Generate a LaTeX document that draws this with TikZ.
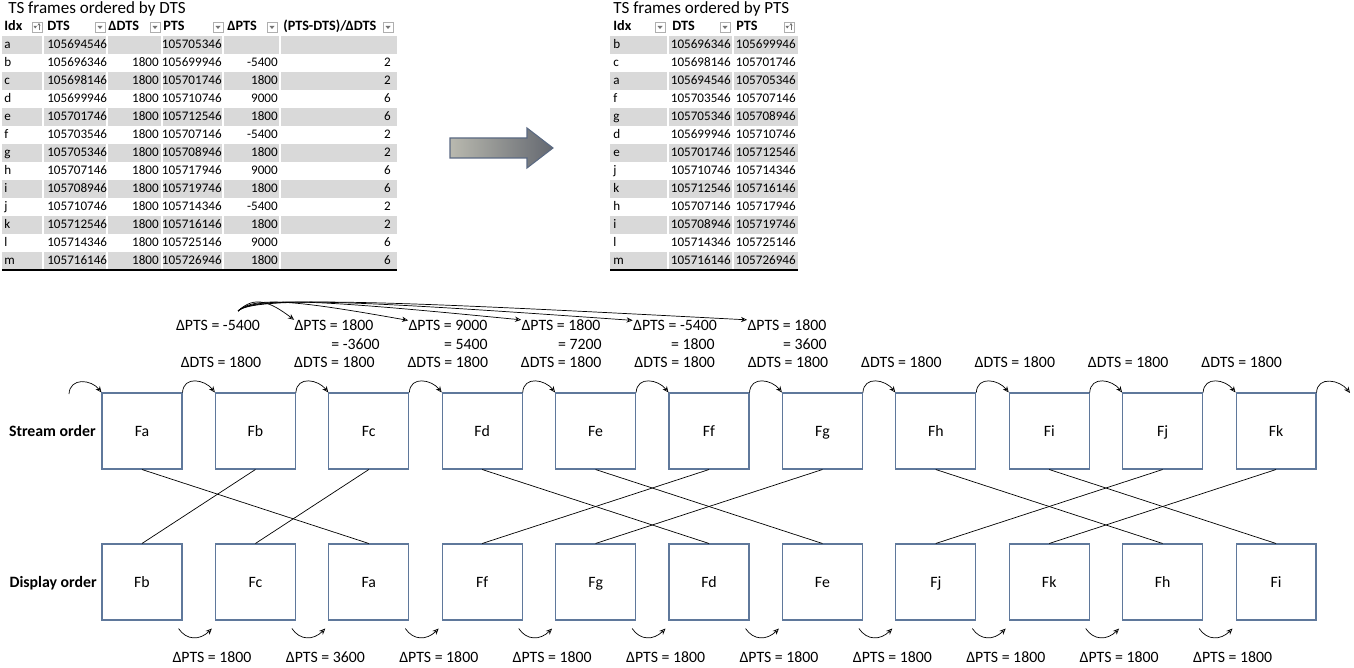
\documentclass[tikz,border=0pt]{standalone}
\usepackage{fontspec}
\setmainfont{Carlito}
\usetikzlibrary{arrows.meta,calc,positioning}

\definecolor{band}{RGB}{217,217,217}
\definecolor{boxline}{RGB}{95,120,155}
\definecolor{btnline}{RGB}{175,175,175}
\definecolor{arrowline}{RGB}{90,105,130}
\definecolor{arrowL}{RGB}{185,185,175}
\definecolor{arrowR}{RGB}{100,104,112}

\tikzset{
  lbl/.style={inner sep=0pt, anchor=base, font=\fontsize{9pt}{10.5pt}\selectfont},
  cell/.style={inner sep=0pt, font=\fontsize{7.45pt}{9pt}\selectfont},
  head/.style={inner sep=0pt, font=\fontsize{8.1pt}{9pt}\selectfont\bfseries},
  frame/.style={draw=boxline, line width=0.6pt, minimum width=1.6cm, minimum height=1.52cm,
    text depth=0pt, font=\fontsize{9pt}{10.5pt}\selectfont},
  hop/.style={-{Stealth[open,length=3.5pt,width=3pt]}, line width=0.4pt},
  btn/.style={draw=btnline, fill=white, line width=0.3pt, minimum size=0.2cm, inner sep=0pt}
}

\begin{document}
\begin{tikzpicture}[x=0.02cm, y=-0.02cm]
\useasboundingbox (0,0) rectangle (1354,668);

% table ordered by DTS
\node[lbl, anchor=base west, font=\fontsize{9.7pt}{11pt}\selectfont] (tdts) at (8,14) {TS frames ordered by DTS};
\foreach \n in {1,3,...,13}
  \fill[band] (2,{18+18*\n}) rectangle (397,{36+18*\n});
\foreach \x in {43,107,162,223,280}
  \draw[white, line width=0.8pt] (\x,36) -- (\x,270);
\draw[line width=0.8pt] (2,270) -- (397,270);
\node[head, anchor=base west] at (4,31) {Idx};
\node[head, anchor=base west] at (47,31) {DTS};
\node[head, anchor=base west] at (108,31) {ΔDTS};
\node[head, anchor=base west] at (163,31) {PTS};
\node[head, anchor=base west] at (227,31) {ΔPTS};
\node[head, anchor=base west] at (283,31) {(PTS-DTS)/ΔDTS};
\foreach \bx in {100,155,218,272,388,660,725} {
  \node[btn] at (\bx,27) {};
  \fill[black!55] (\bx-2.5,26) -- (\bx+2.5,26) -- (\bx,29) -- cycle;
}
\foreach \bx in {37,789} {
  \node[btn] at (\bx,27) {};
  \fill[black!55] (\bx-3.5,26) -- (\bx,26) -- (\bx-1.75,28.5) -- cycle;
  \draw[black!55, line width=0.3pt, -{Stealth[length=1.5pt,width=1.8pt]}] (\bx+2,30.5) -- (\bx+2,23);
}
\node[cell, anchor=base west] at (4,49) {a};
\node[cell, anchor=base west] at (47,49) {105694546};
\node[cell, anchor=base east] at (222,49) {105705346};
\foreach \idx/\vdts/\vpts/\vdp/\vq [count=\n from 2] in {
    b/105696346/105699946/-5400/2, c/105698146/105701746/1800/2,
    d/105699946/105710746/9000/6, e/105701746/105712546/1800/6,
    f/105703546/105707146/-5400/2, g/105705346/105708946/1800/2,
    h/105707146/105717946/9000/6, i/105708946/105719746/1800/6,
    j/105710746/105714346/-5400/2, k/105712546/105716146/1800/2,
    l/105714346/105725146/9000/6, m/105716146/105726946/1800/6} {
  \node[cell, anchor=base west] at (4,{31+18*\n}) {\idx};
  \node[cell, anchor=base west] at (47,{31+18*\n}) {\vdts};
  \node[cell, anchor=base east] at (159,{31+18*\n}) {1800};
  \node[cell, anchor=base east] at (222,{31+18*\n}) {\vpts};
  \node[cell, anchor=base east] at (278,{31+18*\n}) {\vdp};
  \node[cell, anchor=base east] at (391,{31+18*\n}) {\vq};
}

% table ordered by PTS
\node[lbl, anchor=base west, font=\fontsize{9.7pt}{11pt}\selectfont] (tpts) at (613,14) {TS frames ordered by PTS};
\foreach \n in {1,3,...,13}
  \fill[band] (610,{18+18*\n}) rectangle (798,{36+18*\n});
\foreach \x in {668,733}
  \draw[white, line width=0.8pt] (\x,36) -- (\x,270);
\draw[line width=0.8pt] (610,270) -- (798,270);
\node[head, anchor=base west] at (613,31) {Idx};
\node[head, anchor=base west] at (672,31) {DTS};
\node[head, anchor=base west] at (736,31) {PTS};
\foreach \idx/\vdts/\vpts [count=\n] in {
    b/105696346/105699946, c/105698146/105701746, a/105694546/105705346,
    f/105703546/105707146, g/105705346/105708946, d/105699946/105710746,
    e/105701746/105712546, j/105710746/105714346, k/105712546/105716146,
    h/105707146/105717946, i/105708946/105719746, l/105714346/105725146,
    m/105716146/105726946} {
  \node[cell, anchor=base west] at (613,{31+18*\n}) {\idx};
  \node[cell, anchor=base east] at (731,{31+18*\n}) {\vdts};
  \node[cell, anchor=base east] at (796,{31+18*\n}) {\vpts};
}

% block arrow
\shade[left color=arrowL, right color=arrowR, draw=arrowline, line width=0.6pt]
  (450,138) -- (527,138) -- (527,128) -- (553,148) -- (527,168) -- (527,158) -- (450,158) -- cycle;

% frames
\node[lbl, font=\fontsize{9pt}{10.5pt}\selectfont\bfseries, anchor=base east] (lstream) at (96,436) {Stream order};
\node[lbl, font=\fontsize{9pt}{10.5pt}\selectfont\bfseries, anchor=base east] (ldisplay) at (97,587) {Display order};
\foreach \f [count=\i] in {a,b,c,d,e,f,g,h,i,j,k}
  \node[frame] (s\f) at ({142+113.4*(\i-1)},431) {F\f};
\foreach \f [count=\i] in {b,c,a,f,g,d,e,j,k,h,i}
  \node[frame] (d\f) at ({142+113.4*(\i-1)},582) {F\f};
\foreach \f in {a,b,c,d,e,f,g,h,i,j,k}
  \draw[line width=0.4pt] (s\f.south) -- (d\f.north);

% DTS steps
\coordinate (sin) at (69,394);
\coordinate (sout) at (1350,393);
\draw[hop] (sin) .. controls +(1,-17) and +(-10,-13) .. (sa.north west);
\foreach \f/\g in {a/b,b/c,c/d,d/e,e/f,f/g,g/h,h/i,i/j,j/k}
  \draw[hop] (s\f.north east) .. controls +(1,-17) and +(-10,-13) .. (s\g.north west);
\draw[hop] (sk.north east) .. controls +(1,-17) and +(-10,-13) .. (sout);
\foreach \i in {1,...,10}
  \node[lbl] (t\i) at ({221+113.4*(\i-1)},368) {ΔDTS = 1800};

% PTS steps in stream order
\foreach \v/\x [count=\i] in {-5400/218,1800/334,9000/448,1800/561,-5400/675,1800/787}
  \node[lbl] (p\i) at (\x,331) {ΔPTS = \v};
\foreach \v/\x [count=\i from 2] in {-3600/380,5400/488,7200/602,1800/715,3600/827}
  \node[lbl, anchor=base east] (q\i) at (\x,350) {= \v};
\coordinate (org) at (238,311);
\foreach \i/\tx in {2/295,3/408,4/522,5/635,6/748}
  \draw[hop] (org) .. controls (255,295) and ({260+0.3*(\tx-260)},302) .. (p\i.north west);

% PTS steps in display order
\foreach \f/\g in {b/c,c/a,a/f,f/g,g/d,d/e,e/j,j/k,k/h,h/i}
  \draw[hop] ($(d\f.south east)+(-4,8)$) .. controls +(8,12) and +(-12,12) .. ($(d\g.south west)+(-3,8)$);
\foreach \v [count=\i] in {1800,3600,1800,1800,1800,1800,1800,1800,1800,1800}
  \node[lbl] (w\i) at ({212+113.4*(\i-1)},662) {ΔPTS = \v};
\end{tikzpicture}
\end{document}
